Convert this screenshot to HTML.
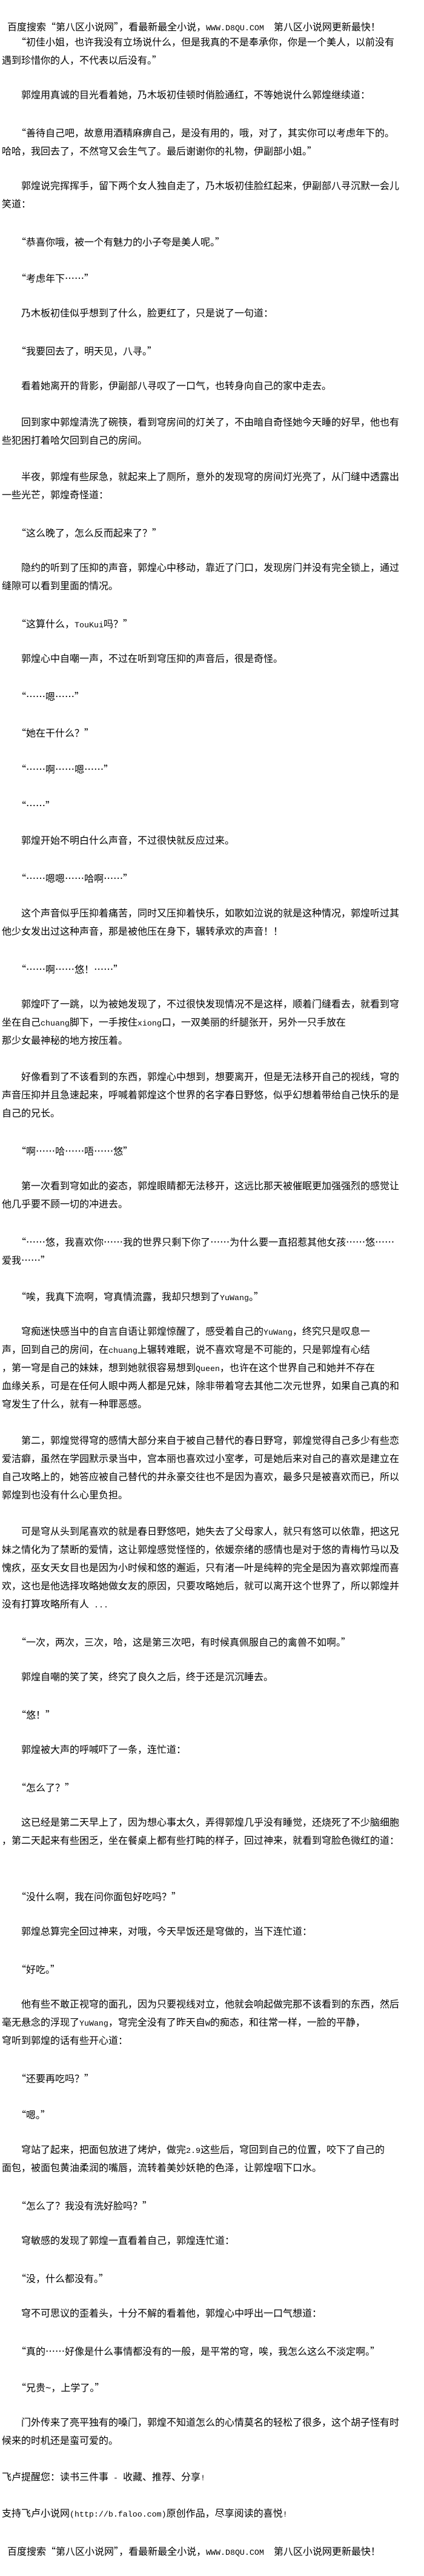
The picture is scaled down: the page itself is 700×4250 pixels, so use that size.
<!DOCTYPE html>
<html><head><meta charset="utf-8">
<style>
html,body{margin:0;padding:0;background:#fff;}
body{width:700px;height:4250px;position:relative;overflow:hidden;color:#000;
font-family:"Liberation Sans","Noto Sans CJK SC",sans-serif;font-size:16px;}
#h{position:absolute;left:12px;top:28px;height:30px;line-height:30px;white-space:pre;}
#c{position:absolute;left:3px;top:53px;width:697px;}
#c div{height:30px;line-height:30px;white-space:pre;}
.m{font-family:"Liberation Mono",monospace;font-size:13.3px;}
.q{font-family:"Noto Sans CJK SC",sans-serif;}
</style></head><body>
<div id="h">百度搜索<span class="q">“</span>第八区小说网<span class="q">”</span>，看最新最全小说，<span class="m">WWW.D8QU.COM</span>　第八区小说网更新最快！</div>
<div id="c">
<div>　　<span class="q">“</span>初佳小姐，也许我没有立场说什么，但是我真的不是奉承你，你是一个美人，以前没有</div>
<div>遇到珍惜你的人，不代表以后没有。<span class="q">”</span></div>
<div></div>
<div>　　郭煌用真诚的目光看着她，乃木坂初佳顿时俏脸通红，不等她说什么郭煌继续道：</div>
<div></div>
<div>　　<span class="q">“</span>善待自己吧，故意用酒精麻痹自己，是没有用的，哦，对了，其实你可以考虑年下的。</div>
<div>哈哈，我回去了，不然穹又会生气了。最后谢谢你的礼物，伊副部小姐。<span class="q">”</span></div>
<div></div>
<div>　　郭煌说完挥挥手，留下两个女人独自走了，乃木坂初佳脸红起来，伊副部八寻沉默一会儿</div>
<div>笑道：</div>
<div></div>
<div>　　<span class="q">“</span>恭喜你哦，被一个有魅力的小子夸是美人呢。<span class="q">”</span></div>
<div></div>
<div>　　<span class="q">“</span>考虑年下<span class="q">……”</span></div>
<div></div>
<div>　　乃木板初佳似乎想到了什么，脸更红了，只是说了一句道：</div>
<div></div>
<div>　　<span class="q">“</span>我要回去了，明天见，八寻。<span class="q">”</span></div>
<div></div>
<div>　　看着她离开的背影，伊副部八寻叹了一口气，也转身向自己的家中走去。</div>
<div></div>
<div>　　回到家中郭煌清洗了碗筷，看到穹房间的灯关了，不由暗自奇怪她今天睡的好早，他也有</div>
<div>些犯困打着哈欠回到自己的房间。</div>
<div></div>
<div>　　半夜，郭煌有些尿急，就起来上了厕所，意外的发现穹的房间灯光亮了，从门缝中透露出</div>
<div>一些光芒，郭煌奇怪道：</div>
<div></div>
<div>　　<span class="q">“</span>这么晚了，怎么反而起来了？<span class="q">”</span></div>
<div></div>
<div>　　隐约的听到了压抑的声音，郭煌心中移动，靠近了门口，发现房门并没有完全锁上，通过</div>
<div>缝隙可以看到里面的情况。</div>
<div></div>
<div>　　<span class="q">“</span>这算什么，<span class="m">TouKui</span>吗？<span class="q">”</span></div>
<div></div>
<div>　　郭煌心中自嘲一声，不过在听到穹压抑的声音后，很是奇怪。</div>
<div></div>
<div>　　<span class="q">“……</span>嗯<span class="q">……”</span></div>
<div></div>
<div>　　<span class="q">“</span>她在干什么？<span class="q">”</span></div>
<div></div>
<div>　　<span class="q">“……</span>啊<span class="q">……</span>嗯<span class="q">……”</span></div>
<div></div>
<div>　　<span class="q">“……”</span></div>
<div></div>
<div>　　郭煌开始不明白什么声音，不过很快就反应过来。</div>
<div></div>
<div>　　<span class="q">“……</span>嗯嗯<span class="q">……</span>哈啊<span class="q">……”</span></div>
<div></div>
<div>　　这个声音似乎压抑着痛苦，同时又压抑着快乐，如歌如泣说的就是这种情况，郭煌听过其</div>
<div>他少女发出过这种声音，那是被他压在身下，辗转承欢的声音！！</div>
<div></div>
<div>　　<span class="q">“……</span>啊<span class="q">……</span>悠！<span class="q">……”</span></div>
<div></div>
<div>　　郭煌吓了一跳，以为被她发现了，不过很快发现情况不是这样，顺着门缝看去，就看到穹</div>
<div>坐在自己<span class="m">chuang</span>脚下，一手按住<span class="m">xiong</span>口，一双美丽的纤腿张开，另外一只手放在</div>
<div>那少女最神秘的地方按压着。</div>
<div></div>
<div>　　好像看到了不该看到的东西，郭煌心中想到，想要离开，但是无法移开自己的视线，穹的</div>
<div>声音压抑并且急速起来，呼喊着郭煌这个世界的名字春日野悠，似乎幻想着带给自己快乐的是</div>
<div>自己的兄长。</div>
<div></div>
<div>　　<span class="q">“</span>啊<span class="q">……</span>哈<span class="q">……</span>唔<span class="q">……</span>悠<span class="q">”</span></div>
<div></div>
<div>　　第一次看到穹如此的姿态，郭煌眼睛都无法移开，这远比那天被催眠更加强强烈的感觉让</div>
<div>他几乎要不顾一切的冲进去。</div>
<div></div>
<div>　　<span class="q">“……</span>悠，我喜欢你<span class="q">……</span>我的世界只剩下你了<span class="q">……</span>为什么要一直招惹其他女孩<span class="q">……</span>悠<span class="q">……</span></div>
<div>爱我<span class="q">……”</span></div>
<div></div>
<div>　　<span class="q">“</span>唉，我真下流啊，穹真情流露，我却只想到了<span class="m">YuWang</span>。<span class="q">”</span></div>
<div></div>
<div>　　穹痴迷快感当中的自言自语让郭煌惊醒了，感受着自己的<span class="m">YuWang</span>，终究只是叹息一</div>
<div>声，回到自己的房间，在<span class="m">chuang</span>上辗转难眠，说不喜欢穹是不可能的，只是郭煌有心结</div>
<div>，第一穹是自己的妹妹，想到她就很容易想到<span class="m">Queen</span>，也许在这个世界自己和她并不存在</div>
<div>血缘关系，可是在任何人眼中两人都是兄妹，除非带着穹去其他二次元世界，如果自己真的和</div>
<div>穹发生了什么，就有一种罪恶感。</div>
<div></div>
<div>　　第二，郭煌觉得穹的感情大部分来自于被自己替代的春日野穹，郭煌觉得自己多少有些恋</div>
<div>爱洁癖，虽然在学园默示录当中，宫本丽也喜欢过小室孝，可是她后来对自己的喜欢是建立在</div>
<div>自己攻略上的，她答应被自己替代的井永豪交往也不是因为喜欢，最多只是被喜欢而已，所以</div>
<div>郭煌到也没有什么心里负担。</div>
<div></div>
<div>　　可是穹从头到尾喜欢的就是春日野悠吧，她失去了父母家人，就只有悠可以依靠，把这兄</div>
<div>妹之情化为了禁断的爱情，这让郭煌感觉怪怪的，依媛奈绪的感情也是对于悠的青梅竹马以及</div>
<div>愧疚，巫女天女目也是因为小时候和悠的邂逅，只有渚一叶是纯粹的完全是因为喜欢郭煌而喜</div>
<div>欢，这也是他选择攻略她做女友的原因，只要攻略她后，就可以离开这个世界了，所以郭煌并</div>
<div>没有打算攻略所有人<span class="m"> ...</span></div>
<div></div>
<div>　　<span class="q">“</span>一次，两次，三次，哈，这是第三次吧，有时候真佩服自己的禽兽不如啊。<span class="q">”</span></div>
<div></div>
<div>　　郭煌自嘲的笑了笑，终究了良久之后，终于还是沉沉睡去。</div>
<div></div>
<div>　　<span class="q">“</span>悠！<span class="q">”</span></div>
<div></div>
<div>　　郭煌被大声的呼喊吓了一条，连忙道：</div>
<div></div>
<div>　　<span class="q">“</span>怎么了？<span class="q">”</span></div>
<div></div>
<div>　　这已经是第二天早上了，因为想心事太久，弄得郭煌几乎没有睡觉，还烧死了不少脑细胞</div>
<div>，第二天起来有些困乏，坐在餐桌上都有些打盹的样子，回过神来，就看到穹脸色微红的道：</div>
<div></div>
<div></div>
<div>　　<span class="q">“</span>没什么啊，我在问你面包好吃吗？<span class="q">”</span></div>
<div></div>
<div>　　郭煌总算完全回过神来，对哦，今天早饭还是穹做的，当下连忙道：</div>
<div></div>
<div>　　<span class="q">“</span>好吃。<span class="q">”</span></div>
<div></div>
<div>　　他有些不敢正视穹的面孔，因为只要视线对立，他就会响起做完那不该看到的东西，然后</div>
<div>毫无悬念的浮现了<span class="m">YuWang</span>，穹完全没有了昨天自<span class="m">W</span>的痴态，和往常一样，一脸的平静，</div>
<div>穹听到郭煌的话有些开心道：</div>
<div></div>
<div>　　<span class="q">“</span>还要再吃吗？<span class="q">”</span></div>
<div></div>
<div>　　<span class="q">“</span>嗯。<span class="q">”</span></div>
<div></div>
<div>　　穹站了起来，把面包放进了烤炉，做完<span class="m">2.9</span>这些后，穹回到自己的位置，咬下了自己的</div>
<div>面包，被面包黄油柔润的嘴唇，流转着美妙妖艳的色泽，让郭煌咽下口水。</div>
<div></div>
<div>　　<span class="q">“</span>怎么了？我没有洗好脸吗？<span class="q">”</span></div>
<div></div>
<div>　　穹敏感的发现了郭煌一直看着自己，郭煌连忙道：</div>
<div></div>
<div>　　<span class="q">“</span>没，什么都没有。<span class="q">”</span></div>
<div></div>
<div>　　穹不可思议的歪着头，十分不解的看着他，郭煌心中呼出一口气想道：</div>
<div></div>
<div>　　<span class="q">“</span>真的<span class="q">……</span>好像是什么事情都没有的一般，是平常的穹，唉，我怎么这么不淡定啊。<span class="q">”</span></div>
<div></div>
<div>　　<span class="q">“</span>兄贵~，上学了。<span class="q">”</span></div>
<div></div>
<div>　　门外传来了亮平独有的嗓门，郭煌不知道怎么的心情莫名的轻松了很多，这个胡子怪有时</div>
<div>候来的时机还是蛮可爱的。</div>
<div></div>
<div>飞卢提醒您：读书三件事<span class="m"> - </span>收藏、推荐、分享<span class="m">!</span></div>
<div></div>
<div>支持飞卢小说网<span class="m">(http://b.faloo.com)</span>原创作品，尽享阅读的喜悦<span class="m">!</span></div>
<div></div>
<div style="padding-left:9px">百度搜索<span class="q">“</span>第八区小说网<span class="q">”</span>，看最新最全小说，<span class="m">WWW.D8QU.COM</span>　第八区小说网更新最快！</div>
</div>
</body></html>
